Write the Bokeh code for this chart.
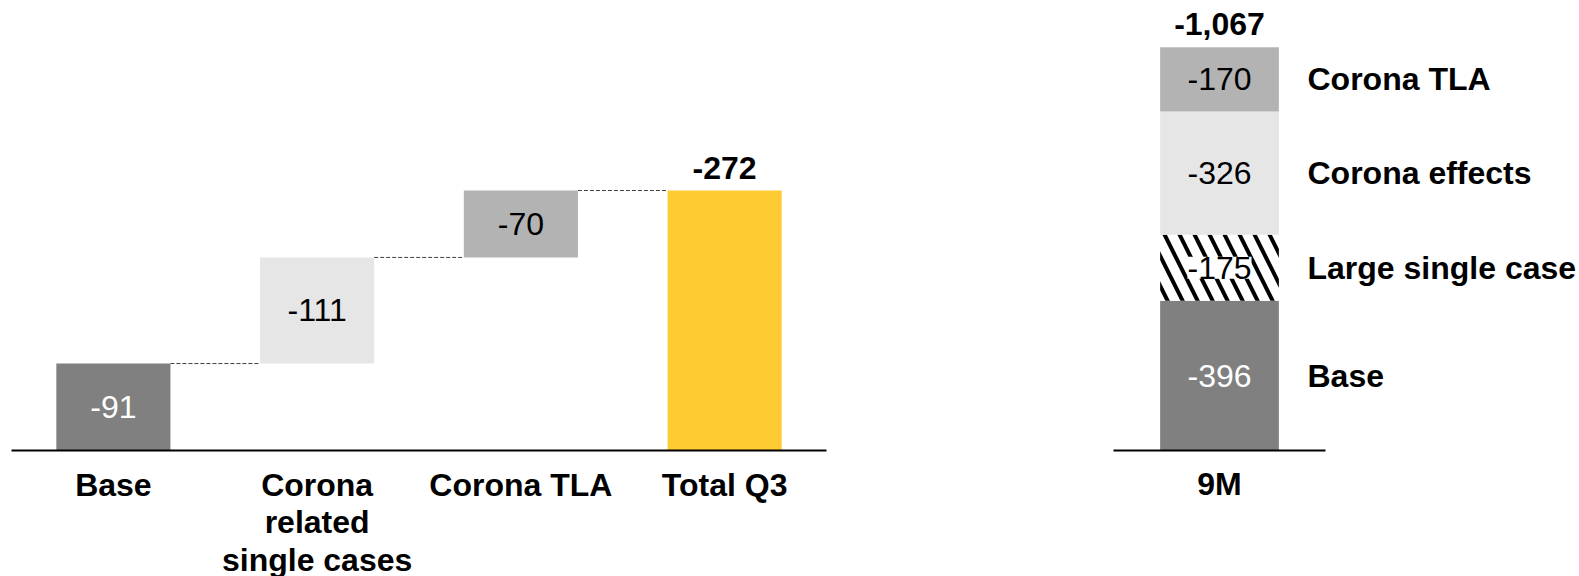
from bokeh.plotting import figure
from bokeh.layouts import row
from bokeh.models import ColumnDataSource, Range1d, FactorRange, Spacer
from bokeh.transform import dodge
from bokeh.core.properties import value
from bokeh.embed import file_html
from bokeh.resources import INLINE

# ---------------- data ----------------
q3_categories = ["Base", "Corona\nrelated\nsingle cases", "Corona TLA", "Total Q3"]
q3_steps = [-91, -111, -70]

nine_m_category = "9M"
nine_m_segments = ["Base", "Large single case", "Corona effects", "Corona TLA"]
nine_m_values = [-396, -175, -326, -170]

# ---------------- styles ----------------
FONT = "Liberation Sans"
FS = "32px"
q3_colors = ["#808080", "#e6e6e6", "#b3b3b3", "#ffcb32"]
q3_text_colors = ["white", "black", "black"]
nm_colors = ["#808080", "white", "#e6e6e6", "#b3b3b3"]
nm_hatch = [" ", "\\", " ", " "]
nm_text_colors = ["white", "black", "black", "black"]
BAR_W = 0.56


def style_axis(ax, bounds):
    ax.fixed_location = 0
    ax.bounds = bounds
    ax.axis_line_width = 2
    ax.axis_line_color = "black"
    ax.major_tick_line_color = None
    ax.minor_tick_line_color = None
    ax.major_tick_out = 0
    ax.major_tick_in = 0
    ax.major_label_standoff = 16
    ax.major_label_text_font = FONT
    ax.major_label_text_font_size = FS
    ax.major_label_text_font_style = "bold"
    ax.major_label_text_color = "black"
    ax.major_label_text_line_height = 1.05


# ---------------- waterfall (Q3) ----------------
q3_total = sum(q3_steps)
bottoms, tops = [], []
level = 0
for v in q3_steps:
    bottoms.append(level)
    level += -v
    tops.append(level)
bottoms.append(0)
tops.append(-q3_total)
mids = [(b + t) / 2 for b, t in zip(bottoms, tops)]

p1 = figure(x_range=FactorRange(*q3_categories, range_padding=0.054,
                                range_padding_units="absolute"),
            y_range=Range1d(-131.8, 470.8),
            width=837, height=576, output_backend="svg", toolbar_location=None,
            y_axis_location=None, min_border=0, min_border_left=0, min_border_right=0,
            min_border_top=0, min_border_bottom=0)
p1.xgrid.visible = False
p1.ygrid.visible = False
p1.outline_line_color = None
style_axis(p1.xaxis[0], (0, len(q3_categories)))

src1 = ColumnDataSource(dict(cat=q3_categories, bottom=bottoms, top=tops, color=q3_colors))
p1.vbar(x="cat", width=BAR_W, bottom="bottom", top="top", fill_color="color",
        line_color=None, source=src1)

step_src = ColumnDataSource(dict(cat=q3_categories[:-1], mid=mids[:-1],
                                 label=[str(v) for v in q3_steps], tcol=q3_text_colors))
p1.text(x="cat", y="mid", text="label", text_color="tcol", text_font=value(FONT),
        text_font_size=FS, text_align="center", text_baseline="middle", source=step_src)

conn = ColumnDataSource(dict(x0=q3_categories[:-1], x1=q3_categories[1:], y=tops[:-1]))
p1.segment(x0=dodge("x0", BAR_W / 2, range=p1.x_range), y0="y",
           x1=dodge("x1", -BAR_W / 2, range=p1.x_range), y1="y",
           line_color="#404040", line_width=1, line_dash="4 2", source=conn)

p1.text(x=[q3_categories[-1]], y=[tops[-1]], text=[str(q3_total)], y_offset=-22.5,
        text_color="black", text_font=value(FONT), text_font_size=FS,
        text_font_style="bold", text_align="center", text_baseline="middle")

# ---------------- stacked (9M) ----------------
nm_total = sum(nine_m_values)
nb, nt = [], []
level = 0
for v in nine_m_values:
    nb.append(level)
    level += -v
    nt.append(level)
nm_mid = [(b + t) / 2 for b, t in zip(nb, nt)]

p2 = figure(x_range=FactorRange(nine_m_category, range_padding=1.198,
                                range_padding_units="absolute"),
            y_range=Range1d(-333.4, 1190.6),
            width=720, height=576, output_backend="svg", toolbar_location=None,
            y_axis_location=None, min_border=0, min_border_left=0, min_border_right=0,
            min_border_top=0, min_border_bottom=0)
p2.xgrid.visible = False
p2.ygrid.visible = False
p2.outline_line_color = None
style_axis(p2.xaxis[0], (0, 1))

src2 = ColumnDataSource(dict(cat=[nine_m_category] * len(nine_m_values), bottom=nb, top=nt,
                             color=nm_colors, hatch=nm_hatch, mid=nm_mid,
                             label=[str(v) for v in nine_m_values], seg=nine_m_segments,
                             tcol=nm_text_colors))
p2.vbar(x="cat", width=BAR_W, bottom="bottom", top="top", fill_color="color",
        hatch_pattern="hatch", hatch_color="black", hatch_weight=4, hatch_scale=30,
        line_color=None, source=src2)
p2.text(x="cat", y="mid", text="label", text_color="tcol", text_font=value(FONT),
        text_font_size=FS, text_align="center", text_baseline="middle",
        background_fill_color="color", source=src2)

p2.text(x=[nine_m_category], y=[nt[-1]], text=[f"{nm_total:,}"], y_offset=-23.4,
        text_color="black", text_font=value(FONT), text_font_size=FS,
        text_font_style="bold", text_align="center", text_baseline="middle")

p2.text(x="cat", y="mid", text="seg", x_offset=88, source=src2,
        text_color="black", text_font=value(FONT), text_font_size=FS,
        text_font_style="bold", text_align="left", text_baseline="middle")

layout = row(p1, Spacer(width=22, height=576), p2)
open("out.html", "w").write(file_html(layout, INLINE))
